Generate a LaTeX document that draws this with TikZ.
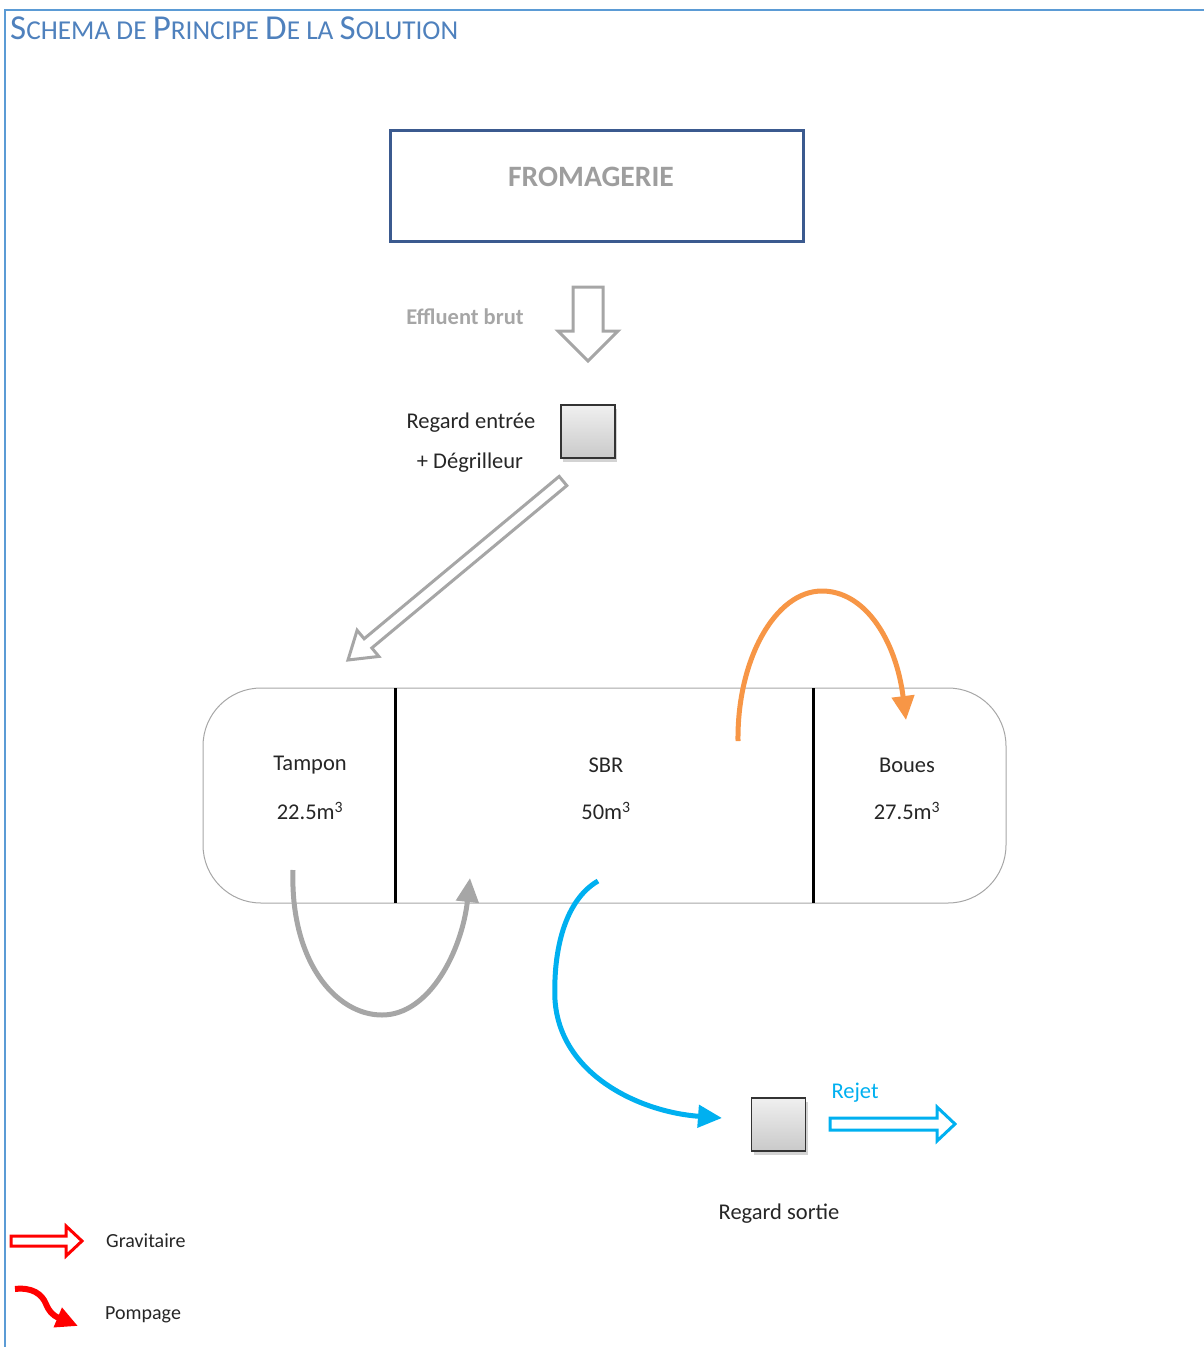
\documentclass[tikz,border=0pt]{standalone}
\usepackage{fontspec}
\setmainfont{Carlito}
\usetikzlibrary{arrows.meta,calc,shadows}
\definecolor{titleblue}{HTML}{4F81BD}
\definecolor{framec}{HTML}{5B9BD5}
\definecolor{boxblue}{HTML}{3B5A8F}
\definecolor{greyc}{HTML}{A6A6A6}
\definecolor{bluec}{HTML}{00B0F0}
\definecolor{orangec}{HTML}{F79646}
\definecolor{redc}{HTML}{FF0000}
\definecolor{textc}{HTML}{262626}
\newcommand\hollowarrow[6]{%
  \coordinate (hA) at (#2); \coordinate (hB) at (#3);
  \coordinate (hP) at ($(hB)!#6!(hA)$);
  \draw[#1] ($(hA)!#4!90:(hB)$) -- ($(hP)!#4!-90:(hA)$) -- ($(hP)!#5!-90:(hA)$) -- (hB)
    -- ($(hP)!#5!90:(hA)$) -- ($(hP)!#4!90:(hA)$) -- ($(hA)!#4!-90:(hB)$) -- cycle;}
\newcommand\BigL[1]{{\fontsize{35}{36}\selectfont #1}}
\newcommand\SmL[1]{{\fontsize{27.3}{28}\selectfont #1}}
\begin{document}
\begin{tikzpicture}[x=1pt,y=-1pt,
  txt/.style={font=\fontsize{22.5}{25}\selectfont, text=textc, inner sep=0},
  legtxt/.style={font=\fontsize{20}{22}\selectfont, text=textc, inner sep=0},
  regard/.style={draw=black!80, line width=1.6pt, top color=gray!12, bottom color=gray!42,
    minimum width=54pt, minimum height=53pt, inner sep=0,
    drop shadow={opacity=0.35, shadow xshift=2pt, shadow yshift=-4pt}},
  hollow/.style={line width=3pt, line join=miter, fill=white},
  pump/.style={line width=5pt, -{Triangle[length=24pt,width=22pt]}},
]
\useasboundingbox (0,0) rectangle (1204,1347);
% frame
\draw[framec, line width=1.5pt] (1204,10) -- (5,10) -- (5,1347);
% title
\node[anchor=base west, inner sep=0, text=titleblue] (title) at (10,39)
  {\BigL{S}\SmL{CHEMA DE }\BigL{P}\SmL{RINCIPE }\BigL{D}\SmL{E LA }\BigL{S}\SmL{OLUTION}};
% fromagerie
\node[draw=boxblue, line width=3pt, minimum width=413pt, minimum height=111pt, inner sep=0] (from) at (596.5,185.5) {};
\node[font=\bfseries\fontsize{29.6}{31}\selectfont, text=greyc!95!black, inner sep=0] (fromtxt) at (591,177) {FROMAGERIE};
% effluent
\node[font=\bfseries\fontsize{22.5}{25}\selectfont, text=greyc, inner sep=0] (eff) at (465,317) {Effluent brut};
\coordinate (downA) at (588,287);
\coordinate (downB) at (588,361);
\hollowarrow{hollow, draw=greyc}{downA}{downB}{15pt}{30pt}{30pt}
% regard entree
\node[regard] (re) at (588,431.5) {};
\node[txt] (retxt1) at (471,423) {Regard entrée};
\node[txt] (retxt2) at (470,463) {+ Dégrilleur};
% diagonal arrow
\coordinate (diagA) at (563,481);
\coordinate (diagB) at (348,660);
\hollowarrow{hollow, draw=greyc}{diagA}{diagB}{6pt}{17pt}{26pt}
% tank
\node[draw=gray!70, line width=1pt, rounded corners=58pt, minimum width=803pt, minimum height=215pt, inner sep=0] (tank) at (604.5,795.5) {};
\draw[black, line width=3pt] (395,688) -- (395,903);
\draw[black, line width=3pt] (813,688) -- (813,903);
\node[txt] (tampon) at (310,765) {Tampon};
\node[txt] (tamponv) at (310,811) {22.5m\textsuperscript{3}};
\node[txt] (sbr) at (606,765) {SBR};
\node[txt] (sbrv) at (606,811) {50m\textsuperscript{3}};
\node[txt] (boues) at (907,765) {Boues};
\node[txt] (bouesv) at (907,811) {27.5m\textsuperscript{3}};
% orange arc SBR -> boues
\coordinate (sbrout) at (738,741);
\coordinate (topor) at (822,591);
\coordinate (bouesin) at (906,720);
\draw[pump, orangec] (sbrout) .. controls (737,660) and (775,591) .. (topor)
  .. controls (865,591) and (896,640) .. (bouesin);
% grey arc tampon -> SBR
\coordinate (tampout) at (293,870);
\coordinate (botgr) at (382,1015);
\coordinate (sbrin) at (470,878);
\draw[pump, greyc] (tampout) .. controls (290,960) and (335,1015) .. (botgr)
  .. controls (430,1015) and (462,950) .. (sbrin);
% blue curve SBR -> regard sortie
\coordinate (sbrout2) at (598,881);
\coordinate (midbl) at (555,1000);
\coordinate (rsin) at (722,1118);
\draw[pump, bluec] (sbrout2) .. controls (565,900) and (553,950) .. (midbl)
  .. controls (560,1075) and (640,1112) .. (rsin);
% regard sortie
\node[regard] (rs) at (778.5,1124.5) {};
\node[txt] (rstxt) at (779,1214) {Regard sortie};
\node[txt, text=bluec] (rejet) at (855,1093) {Rejet};
\coordinate (rejA) at (830,1124);
\coordinate (rejB) at (955,1124);
\hollowarrow{hollow, draw=bluec}{rejA}{rejB}{6pt}{17pt}{18pt}
% legend
\coordinate (gA) at (11,1241);
\coordinate (gB) at (82,1241);
\hollowarrow{hollow, draw=redc}{gA}{gB}{5pt}{15pt}{16pt}
\node[legtxt, anchor=west] (grav) at (106,1241) {Gravitaire};
\coordinate (pA) at (15,1289);
\coordinate (pB) at (78,1326);
\draw[redc, line width=6pt, -{Triangle[length=22pt,width=20pt]}] (pA) .. controls (32,1287) and (42,1294) .. (46,1304)
  .. controls (49,1311) and (52,1315) .. (pB);
\node[legtxt, anchor=west] (pomp) at (105,1315) {Pompage};
\end{tikzpicture}
\end{document}
